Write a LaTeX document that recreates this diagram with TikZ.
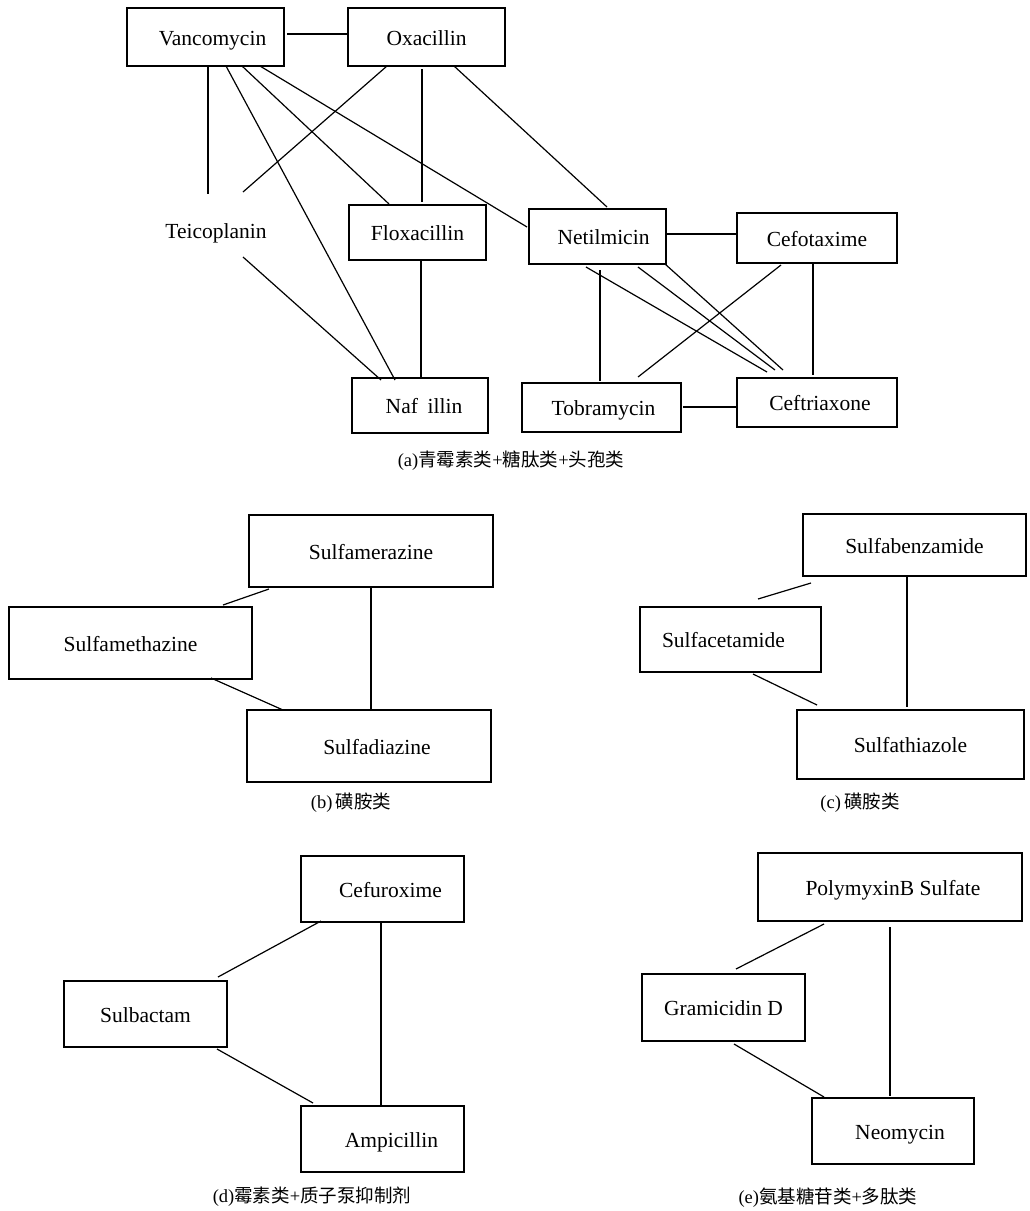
\documentclass[tikz,border=0pt]{standalone}
\usepackage{fontspec}
\setmainfont{Liberation Serif}
\newfontfamily\cjk{Noto Sans CJK SC}
\newcommand\txtR[2]{\hspace*{#1}#2}
\newcommand\txtL[2]{#2\hspace*{#1}}
\begin{document}
\begin{tikzpicture}[x=1pt,y=-1pt,
  box/.style={draw,line width=1.3pt,inner sep=0pt,text height=17pt,text depth=1pt,font=\fontsize{21.5}{25}\selectfont},
  plain/.style={inner sep=0pt,text height=17pt,text depth=1pt,font=\fontsize{21.5}{25}\selectfont},
  captext/.style={inner sep=0pt,font=\fontsize{18.5}{22}\selectfont},
  link/.style={line width=1.2pt}]
\useasboundingbox (0,0) rectangle (1030,1211);
% ---------- panel (a)
\node[box,minimum width=157pt,minimum height=58pt] (V) at (205.5,37) {\txtR{14pt}{Vancomycin}};
\node[box,minimum width=157pt,minimum height=58pt] (O) at (426.5,37) {Oxacillin};
\node[plain] (T) at (216,230) {Teicoplanin};
\node[box,minimum width=137pt,minimum height=55pt] (F) at (417.5,232.5) {Floxacillin};
\node[box,minimum width=137pt,minimum height=55pt] (Net) at (597.5,236.5) {\txtR{12pt}{Netilmicin}};
\node[box,minimum width=160pt,minimum height=50pt] (Cx) at (817,238) {Cefotaxime};
\node[box,minimum width=159pt,minimum height=49pt] (Tob) at (601.5,407.5) {\txtR{4pt}{Tobramycin}};
\node[box,minimum width=160pt,minimum height=49pt] (Ctr) at (817,402.5) {\txtR{6pt}{Ceftriaxone}};
\node[box,minimum width=136pt,minimum height=55pt] (Naf) at (420,405.5) {\txtR{8pt}{Naf\hspace{0.45em}illin}};
\node[captext] (capa) at (511,461) {(a){\cjk 青霉素类}+{\cjk 糖肽类}+{\cjk 头孢类}};

\draw[link] ([shift={(81.5,-3)}]V.center) -- ([shift={(-78.5,-3)}]O.center);
\draw[link] ([shift={(2.5,30)}]V.center) -- ([shift={(-8,-36)}]T.center);
\draw[link] ([shift={(-39.5,29)}]O.center) -- ([shift={(27,-38)}]T.center);
\draw[link] ([shift={(20.5,29)}]V.center) -- ([shift={(-25,-25.5)}]Naf.center);
\draw[link] ([shift={(27,27)}]T.center) -- ([shift={(-39,-25.5)}]Naf.center);
\draw[link] ([shift={(3.5,28.5)}]F.center) -- ([shift={(1,-27.5)}]Naf.center);
\draw[link] ([shift={(36.5,29)}]V.center) -- ([shift={(-28.5,-28.5)}]F.center);
\draw[link] ([shift={(-4.5,32)}]O.center) -- ([shift={(4.5,-30.5)}]F.center);
\draw[link] ([shift={(54.5,29)}]V.center) -- ([shift={(-70.5,-9.5)}]Net.center);
\draw[link] ([shift={(27.5,29)}]O.center) -- ([shift={(9.5,-29.5)}]Net.center);
\draw[link] ([shift={(69.5,-2.5)}]Net.center) -- ([shift={(-80,-4)}]Cx.center);
\draw[link] ([shift={(2.5,33.5)}]Net.center) -- ([shift={(-1.5,-26.5)}]Tob.center);
\draw[link] ([shift={(-11.5,30.5)}]Net.center) -- ([shift={(-50,-30.5)}]Ctr.center);
\draw[link] ([shift={(40.5,30.5)}]Net.center) -- ([shift={(-42,-32.5)}]Ctr.center);
\draw[link] ([shift={(67.5,27.5)}]Net.center) -- ([shift={(-34,-32.5)}]Ctr.center);
\draw[link] ([shift={(-36,27)}]Cx.center) -- ([shift={(36.5,-30.5)}]Tob.center);
\draw[link] ([shift={(-4,24)}]Cx.center) -- ([shift={(-4,-27.5)}]Ctr.center);
\draw[link] ([shift={(81.5,-0.5)}]Tob.center) -- ([shift={(-80,4.5)}]Ctr.center);
% ---------- panel (b)
\node[box,minimum width=244pt,minimum height=72pt] (Smz) at (371,551) {Sulfamerazine};
\node[box,minimum width=243pt,minimum height=72pt] (Smt) at (130.5,643) {Sulfamethazine};
\node[box,minimum width=244pt,minimum height=72pt] (Sdz) at (369,746) {\txtR{16pt}{Sulfadiazine}};
\node[captext] (capb) at (351,803) {(b)\,{\cjk 磺胺类}};
\draw[link] ([shift={(-102,38)}]Smz.center) -- ([shift={(92.5,-38)}]Smt.center);
\draw[link] ([shift={(80.5,35)}]Smt.center) -- ([shift={(-86,-36)}]Sdz.center);
\draw[link] ([shift={(0,36)}]Smz.center) -- ([shift={(2,-36)}]Sdz.center);
% ---------- panel (c)
\node[box,minimum width=223pt,minimum height=62pt] (Sbz) at (914.5,545) {Sulfabenzamide};
\node[box,minimum width=181pt,minimum height=65pt] (Sct) at (730.5,639.5) {\txtL{14pt}{Sulfacetamide}};
\node[box,minimum width=227pt,minimum height=69pt] (Sth) at (910.5,744.5) {Sulfathiazole};
\node[captext] (capc) at (860,803) {(c)\,{\cjk 磺胺类}};
\draw[link] ([shift={(-103.5,38)}]Sbz.center) -- ([shift={(27.5,-40.5)}]Sct.center);
\draw[link] ([shift={(22.5,34.5)}]Sct.center) -- ([shift={(-93.5,-39.5)}]Sth.center);
\draw[link] ([shift={(-7.5,32)}]Sbz.center) -- ([shift={(-3.5,-37.5)}]Sth.center);
% ---------- panel (d)
\node[box,minimum width=163pt,minimum height=66pt] (Cfx) at (382.5,889) {\txtR{16pt}{Cefuroxime}};
\node[box,minimum width=163pt,minimum height=66pt] (Sbc) at (145.5,1014) {Sulbactam};
\node[box,minimum width=163pt,minimum height=66pt] (Amp) at (382.5,1139) {\txtR{18pt}{Ampicillin}};
\node[captext] (capd) at (312,1197) {(d){\cjk 霉素类}+{\cjk 质子泵抑制剂}};
\draw[link] ([shift={(-61.5,32)}]Cfx.center) -- ([shift={(72.5,-37)}]Sbc.center);
\draw[link] ([shift={(71.5,35)}]Sbc.center) -- ([shift={(-69.5,-36)}]Amp.center);
\draw[link] ([shift={(-1.5,33)}]Cfx.center) -- ([shift={(-1.5,-33)}]Amp.center);
% ---------- panel (e)
\node[box,minimum width=264pt,minimum height=68pt] (Pmx) at (890,887) {\txtR{6pt}{PolymyxinB Sulfate}};
\node[box,minimum width=163pt,minimum height=67pt] (Gra) at (723.5,1007.5) {Gramicidin D};
\node[box,minimum width=162pt,minimum height=66pt] (Neo) at (893,1131) {\txtR{14pt}{Neomycin}};
\node[captext] (cape) at (828,1198) {(e){\cjk 氨基糖苷类}+{\cjk 多肽类}};
\draw[link] ([shift={(-66,37)}]Pmx.center) -- ([shift={(12.5,-38.5)}]Gra.center);
\draw[link] ([shift={(10.5,36.5)}]Gra.center) -- ([shift={(-69,-34)}]Neo.center);
\draw[link] ([shift={(0,40)}]Pmx.center) -- ([shift={(-3,-35)}]Neo.center);
\end{tikzpicture}
\end{document}
